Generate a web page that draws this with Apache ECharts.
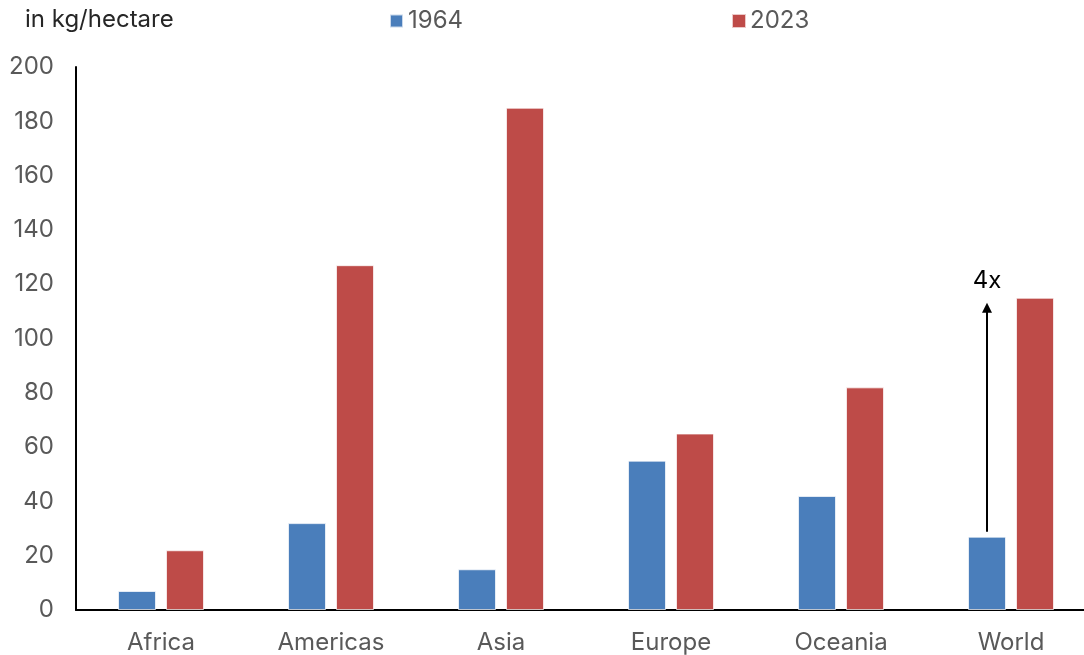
<!DOCTYPE html>
<html>
<head>
<meta charset="utf-8">
<script src="https://cdn.jsdelivr.net/npm/echarts@6/dist/echarts.min.js"></script>
<style>
  html, body { margin: 0; padding: 0; background: #fff; overflow: hidden; }
  /* the plot runs slightly past the right edge of the window */
  #chart { width: 1096px; height: 655px; }
</style>
</head>
<body>
<div id="chart"></div>
<script>
// Fertilizer use by region, kg per hectare
const categories = ['Africa', 'Americas', 'Asia', 'Europe', 'Oceania', 'World'];
const values1964 = [7, 32, 15, 55, 42, 27];
const values2023 = [22, 127, 185, 65, 82, 115];
const yTicks = { min: 0, max: 200, interval: 20 };
const arrowLabel = '4x';
const arrowCategory = 'World';

const BLUE = '#4A7EBB';
const RED = '#BE4B48';
const FONT = 'Inter, "Noto Sans", sans-serif';
const FS = 24;
const BAR_W = 38;
const BAR_GAP = 10;

const chart = echarts.init(document.getElementById('chart'), null, { renderer: 'canvas' });

const arrowIdx = categories.indexOf(arrowCategory);

chart.setOption({
  animation: false,
  backgroundColor: '#fff',
  textStyle: { fontFamily: FONT },
  title: {
    text: 'in kg/hectare',
    left: 20, top: 3,
    textStyle: { fontFamily: FONT, fontSize: FS, fontWeight: 'normal', color: '#262626' }
  },
  legend: [
    {
      data: ['1964'], left: 384, top: 4,
      icon: 'rect', itemWidth: 13, itemHeight: 13, itemGap: 6,
      textStyle: { fontFamily: FONT, fontSize: FS, color: '#595959' }
    },
    {
      data: ['2023'], left: 726, top: 4,
      icon: 'rect', itemWidth: 14, itemHeight: 14, itemGap: 6,
      textStyle: { fontFamily: FONT, fontSize: FS, color: '#595959', padding: [0, 0, 0, -1] }
    }
  ],
  grid: { left: 76, top: 67, bottom: 44, right: 0 },
  xAxis: {
    type: 'category',
    data: categories,
    axisLine: { lineStyle: { color: '#000', width: 2 } },
    axisTick: { show: false },
    axisLabel: { fontFamily: FONT, fontSize: FS, color: '#595959', margin: 21 }
  },
  yAxis: {
    type: 'value',
    min: yTicks.min, max: yTicks.max, interval: yTicks.interval,
    axisLine: { show: true, lineStyle: { color: '#000', width: 2 } },
    axisTick: { show: false },
    splitLine: { show: false },
    axisLabel: { fontFamily: FONT, fontSize: FS, color: '#595959', margin: 22 }
  },
  series: [
    {
      name: '1964', type: 'bar', data: values1964,
      barWidth: BAR_W, barGap: (BAR_GAP / BAR_W * 100) + '%',
      itemStyle: { color: BLUE, borderColor: 'rgba(255,255,255,0.7)', borderWidth: 1 }
    },
    {
      name: '2023', type: 'bar', data: values2023,
      barWidth: BAR_W,
      itemStyle: { color: RED, borderColor: 'rgba(255,255,255,0.7)', borderWidth: 1 }
    },
    {
      // growth arrow from the 1964 bar up to the 2023 level
      name: 'arrow', type: 'custom',
      data: [[arrowIdx, values1964[arrowIdx], values2023[arrowIdx]]],
      z: 5, silent: true,
      renderItem: function (params, api) {
        const base = api.coord([api.value(0), api.value(1)]);
        const top = api.coord([api.value(0), api.value(2)]);
        const x = base[0] - (BAR_W + BAR_GAP) / 2;
        const y0 = base[1] - 5;
        const y1 = top[1] + 5;
        return {
          type: 'group',
          children: [
            { type: 'line', shape: { x1: x, y1: y0, x2: x, y2: y1 + 8 },
              style: { stroke: '#000', lineWidth: 2 } },
            { type: 'polygon', shape: { points: [[x, y1], [x - 5, y1 + 10], [x + 5, y1 + 10]] },
              style: { fill: '#000' } },
            { type: 'text', x: x, y: y1 - 22,
              style: { text: arrowLabel, fill: '#000', font: FS + 'px ' + FONT,
                       align: 'center', verticalAlign: 'middle' } }
          ]
        };
      }
    }
  ]
});
</script>
</body>
</html>
